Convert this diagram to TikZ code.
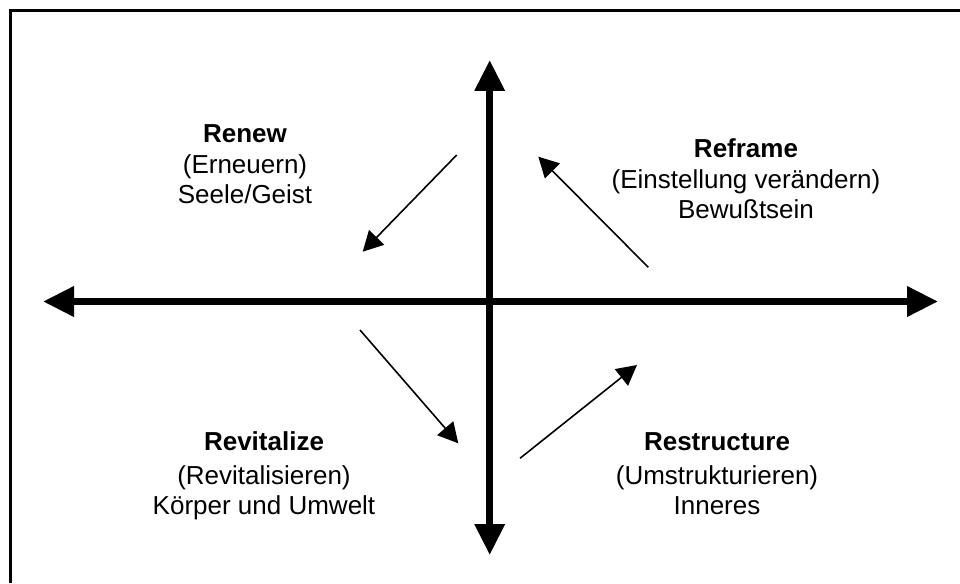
\documentclass[tikz,border=0pt]{standalone}
\usepackage{fontspec}
\setmainfont{Liberation Sans}
\usetikzlibrary{arrows.meta}
\tikzset{
  x=1pt, y=-1pt,
  axis/.style={line width=6.8pt, -{Triangle[length=31pt,width=29pt]}, shorten >=0pt},
  axisboth/.style={line width=6.8pt, {Triangle[length=31pt,width=29pt]}-{Triangle[length=31pt,width=29pt]}},
  diag/.style={line width=1.6pt, -{Triangle[length=20pt,width=21pt]}},
  frameline/.style={line width=3pt},
  lbl/.style={anchor=base, inner sep=0pt, font=\fontsize{26}{30}\selectfont},
  lblb/.style={lbl, font=\fontsize{26}{30}\selectfont\bfseries},
}
\begin{document}
\begin{tikzpicture}
\useasboundingbox (0,0) rectangle (960,583);
% frame
\coordinate (f1) at (10.5,583);
\coordinate (f2) at (10.5,11);
\coordinate (f3) at (960,11);
\draw[frameline] (f1) -- (f2) -- (f3);
% axes
\coordinate (L) at (43,301.5);
\coordinate (R) at (938,301.5);
\coordinate (T) at (489.7,60);
\coordinate (B) at (489.7,555);
\draw[axisboth] (L) -- (R);
\draw[axisboth] (B) -- (T);
% diagonal arrows
\coordinate (a1s) at (456.7,155);
\coordinate (a1e) at (362.7,251.7);
\coordinate (a2s) at (648.3,267.3);
\coordinate (a2e) at (538.3,156.7);
\coordinate (a3s) at (360,330);
\coordinate (a3e) at (458.3,443.3);
\coordinate (a4s) at (520,458.3);
\coordinate (a4e) at (637,365);
\draw[diag] (a1s) -- (a1e);
\draw[diag] (a2s) -- (a2e);
\draw[diag] (a3s) -- (a3e);
\draw[diag] (a4s) -- (a4e);
% labels
\node[lblb] (renA) at (245,142.7) {Renew};
\node[lbl] (renB) at (245,173) {(Erneuern)};
\node[lbl] (renC) at (245,203) {Seele/Geist};
\node[lblb] (refA) at (746,157) {Reframe};
\node[lbl] (refB) at (746,188) {(Einstellung verändern)};
\node[lbl] (refC) at (746,218) {Bewußtsein};
\node[lblb] (revA) at (264,450) {Revitalize};
\node[lbl] (revB) at (264,484) {(Revitalisieren)};
\node[lbl] (revC) at (264,514) {Körper und Umwelt};
\node[lblb] (resA) at (717,450) {Restructure};
\node[lbl] (resB) at (717,484) {(Umstrukturieren)};
\node[lbl] (resC) at (717,514) {Inneres};
\end{tikzpicture}
\end{document}
